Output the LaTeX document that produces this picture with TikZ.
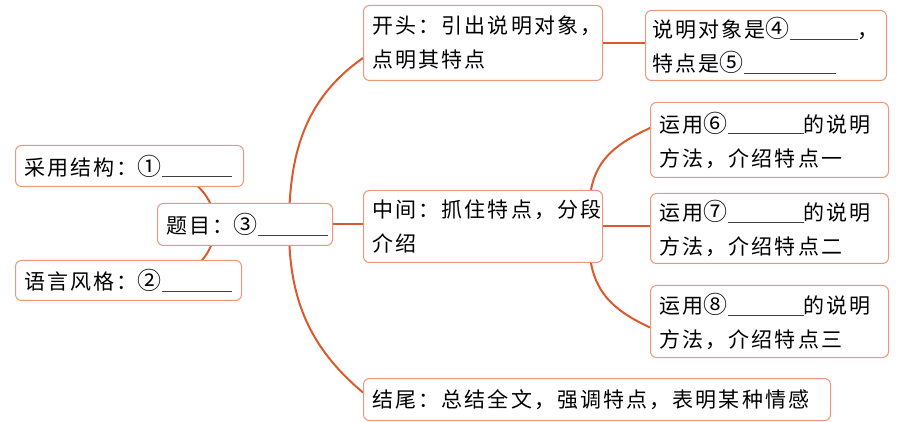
\documentclass[tikz,border=0pt]{standalone}
\usepackage{fontspec}
\setmainfont{Noto Sans CJK SC}[LetterSpace=10]
\usetikzlibrary{backgrounds}
\definecolor{boxc}{RGB}{238,150,125}
\definecolor{linec}{RGB}{218,90,45}
\newcommand{\blank}[1]{\textcolor{black!75}{\rule[-2pt]{#1}{0.7pt}}}
\newcommand{\cnum}[1]{{\fontsize{24}{34}\selectfont #1}}
\tikzset{
 mbox/.style={draw=boxc, line width=1pt, rounded corners=6pt, fill=white, anchor=north west,
   inner xsep=9pt, inner ysep=0pt, align=left, font=\fontsize{21}{34}\selectfont},
 link/.style={draw=linec, line width=2pt}
}
\begin{document}
\begin{tikzpicture}[x=1pt,y=1pt]
\useasboundingbox (0,0) rectangle (903,-422);
\node[mbox, minimum height=41, text width=210] (a) at (15,-145) {采用结构：\cnum{①}\blank{70pt}};
\node[mbox, minimum height=42, text width=157] (b) at (157,-203) {题目：\cnum{③}\blank{70pt}};
\node[mbox, minimum height=40, text width=208] (c) at (15,-260) {语言风格：\cnum{②}\blank{70pt}};
\node[mbox, minimum height=75, text width=221] (d) at (363,-5) {开头：引出说明对象，\\点明其特点};
\node[mbox, minimum height=70, text width=227, inner xsep=7pt] (e) at (645,-10) {说明对象是\cnum{④}\blank{68pt}，\\特点是\cnum{⑤}\blank{92pt}};
\node[mbox, minimum height=75, text width=220] (f) at (650,-102) {运用\cnum{⑥}\blank{76pt}的说明\\方法，介绍特点一};
\node[mbox, minimum height=72, text width=221] (g) at (363,-190) {中间：抓住特点，分段\\介绍};
\node[mbox, minimum height=70, text width=220] (h) at (650,-193) {运用\cnum{⑦}\blank{76pt}的说明\\方法，介绍特点二};
\node[mbox, minimum height=72, text width=220] (i) at (650,-285) {运用\cnum{⑧}\blank{76pt}的说明\\方法，介绍特点三};
\node[mbox, minimum height=42, text width=449] (j) at (363,-378) {结尾：总结全文，强调特点，表明某种情感};
\coordinate (arcmid) at (289,-228);
\begin{scope}[on background layer]
\draw[link] ([yshift=-15pt]d.west) to[out=215,in=90] (arcmid) to[out=-90,in=140] ([yshift=7pt]j.west);
\draw[link] (b.east) -- (b.east -| g.west);
\draw[link] ([xshift=41pt]a.center) .. controls (205,-190) .. ([xshift=-25pt]b.center);
\draw[link] ([xshift=41pt]c.center) .. controls (205,-262) .. ([xshift=-25pt]b.center);
\draw[link] (d.east) -- (d.east -| e.west);
\draw[link] ([xshift=-12pt]g.north east) to[out=80,in=205] ([yshift=12pt]f.west);
\draw[link] (g.east) -- (g.east -| h.west);
\draw[link] ([xshift=-12pt]g.south east) to[out=-80,in=155] ([yshift=-6pt]i.west);
\end{scope}
\end{tikzpicture}
\end{document}
